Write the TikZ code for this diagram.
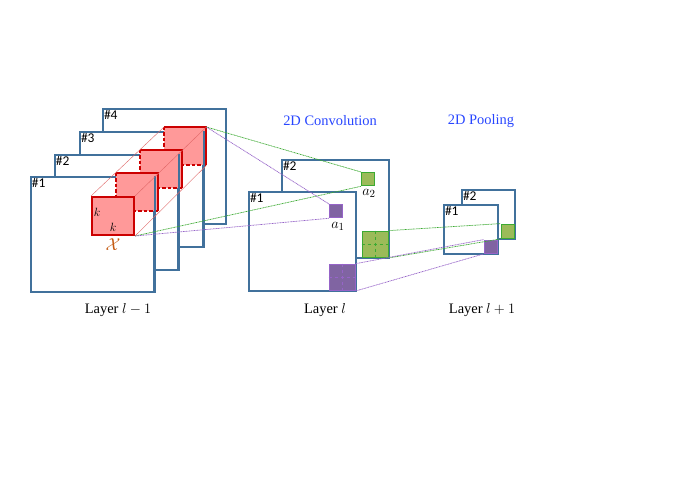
\documentclass[tikz,border=0pt]{standalone}
\usepackage{fontspec}
\setmainfont{Liberation Serif}
\newfontfamily\hashfont{Carlito}
\definecolor{frameblue}{RGB}{65,113,156}
\definecolor{kfill}{RGB}{255,153,153}
\definecolor{kred}{RGB}{204,0,0}
\definecolor{gfill}{RGB}{155,187,89}
\definecolor{gline}{RGB}{60,170,50}
\definecolor{pfill}{RGB}{128,100,162}
\definecolor{pline}{RGB}{150,100,200}
\definecolor{titleblue}{RGB}{40,70,255}
\definecolor{xorange}{RGB}{197,90,17}

\begin{document}
\begin{tikzpicture}[x=1bp,y=-1bp,
 frame/.style={draw=frameblue,line width=1.8bp,fill=white,anchor=north west,inner sep=0pt},
 numlab/.style={anchor=north west,inner sep=1.8bp,font=\hashfont\fontsize{13.5}{14}\selectfont},
 kback/.style={fill=kfill,anchor=north west,inner sep=0pt,minimum width=42bp,minimum height=38bp},
 kedge/.style={draw=kred,line width=2bp},
 kdash/.style={dash pattern=on 3.5bp off 2bp},
 kdiag/.style={draw=kred!60,line width=0.4bp},
 gsq/.style={draw=gline,line width=1.3bp,fill=gfill,inner sep=0pt},
 psq/.style={draw=pline,line width=1.3bp,fill=pfill,inner sep=0pt},
 link/.style={line width=0.7bp,dash pattern=on 1bp off 0.6bp},
 title/.style={text=titleblue,font=\fontsize{14.5}{16}\selectfont},
 layer/.style={font=\fontsize{14.5}{16}\selectfont}]
\useasboundingbox (0,0) rectangle (675,477);

% Layer l-1
\foreach \i/\x/\y in {4/102/108,3/79/131,2/54/154,1/30/176}{
  \node[frame,minimum width=123bp,minimum height=115bp] (A\i) at (\x,\y) {};
  \node[numlab] (lA\i) at (A\i.north west) {\#\i};
}
\foreach \i/\x/\y in {4/164/127,3/140/150,2/116/173}{
  \node[kback] (k\i) at (\x,\y) {};
  \draw[kedge] (k\i.north west) -- (k\i.north east) -- (k\i.south east);
  \draw[kedge,kdash] (k\i.north west) -- (k\i.south west) -- (k\i.south east);
}
\node[kback,kedge] (k1) at (91,196) {};
\foreach \i in {1,2,3}
  \draw[frameblue,line width=1.8bp] (A\i.north east) -- (A\i.south east);
\draw[kdiag] (k1.north west) -- (k4.north west);
\draw[kdiag] (k1.north east) -- (k4.north east);
\draw[kdiag] (k1.south east) -- (k4.south east);
\node[font=\fontsize{13}{13}\selectfont] (kv) at (97,212) {$k$};
\node[font=\fontsize{13}{13}\selectfont] (kh) at (113,227) {$k$};
\node[text=xorange,font=\fontsize{16}{16}\selectfont] (X) at (113,245) {$\mathcal{X}$};

% Layer l
\node[frame,minimum width=107bp,minimum height=98bp] (B2) at (281,159) {};
\node[numlab] (lB2) at (B2.north west) {\#2};
\node[frame,minimum width=107bp,minimum height=99bp] (B1) at (248,191) {};
\node[numlab] (lB1) at (B1.north west) {\#1};
\node[gsq,anchor=north west,minimum size=13bp] (ga) at (361,172) {};
\node[psq,anchor=north west,minimum size=13bp] (pa) at (329,204) {};
\node[gsq,anchor=south east,minimum size=26bp] (gb) at ([shift={(-0.9,-0.9)}]B2.south east) {};
\draw[gline,line width=0.9bp,dashed] (gb.north) -- (gb.south) (gb.west) -- (gb.east);
\node[psq,anchor=south east,minimum size=26bp] (pb) at ([shift={(-0.9,-0.9)}]B1.south east) {};
\draw[pline,line width=0.9bp,dashed] (pb.north) -- (pb.south) (pb.west) -- (pb.east);
\node[font=\fontsize{15}{15}\selectfont] (la2) at (369,193) {$a_2$};
\node[font=\fontsize{15}{15}\selectfont] (la1) at (338,226) {$a_1$};

% Layer l+1
\node[frame,minimum width=53bp,minimum height=49bp] (C2) at (461,189) {};
\node[numlab] (lC2) at (C2.north west) {\#2};
\node[frame,minimum width=54bp,minimum height=49bp] (C1) at (443,204) {};
\node[numlab] (lC1) at (C1.north west) {\#1};
\node[gsq,anchor=south east,minimum width=13bp,minimum height=14bp] (gc) at ([shift={(-0.9,-0.9)}]C2.south east) {};
\node[psq,anchor=south east,minimum width=13bp,minimum height=13bp] (pc) at ([shift={(-0.9,-0.9)}]C1.south east) {};

% connectors
\draw[link,gline] (k4.north east) -- (ga.north west);
\draw[link,gline] (k1.south east) -- (ga.south west);
\draw[link,pline] (k4.north east) -- (pa.north west);
\draw[link,pline] (k1.south east) -- (pa.south west);
\draw[link,gline] (gb.north east) -- (gc.north west);
\draw[link,gline] (gb.south east) -- (gc.south west);
\draw[link,pline] (pb.north east) -- (pc.north west);
\draw[link,pline] (pb.south east) -- (pc.south west);

% texts
\node[title] (tconv) at (330,121) {2D Convolution};
\node[title] (tpool) at (481,121) {2D Pooling};
\node[layer] (L0) at (118,310) {Layer $l-1$};
\node[layer] (L1) at (325,310) {Layer $l$};
\node[layer] (L2) at (482,310) {Layer $l+1$};
\end{tikzpicture}
\end{document}
